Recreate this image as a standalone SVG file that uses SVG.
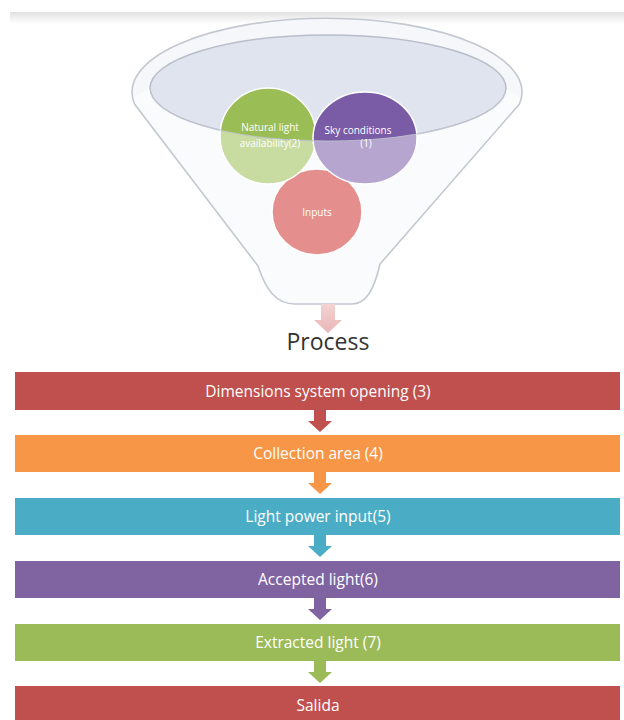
<svg xmlns="http://www.w3.org/2000/svg" width="624" height="720" viewBox="0 0 624 720">
<defs>
<linearGradient id="topline" x1="0" y1="0" x2="0" y2="1">
<stop offset="0" stop-color="#e2e2e2"/>
<stop offset="1" stop-color="#ffffff"/>
</linearGradient>
<linearGradient id="pinkArrow" x1="0" y1="0" x2="0" y2="1">
<stop offset="0" stop-color="#f3d3d3"/>
<stop offset="1" stop-color="#eab5b5"/>
</linearGradient>
<style>
.bar-text{font-family:"Open Sans","Liberation Sans",sans-serif;font-size:15.5px;fill:#ffffff;text-anchor:middle;}
.circ-text{font-family:"Open Sans","Liberation Sans",sans-serif;font-size:10px;fill:#ffffff;text-anchor:middle;}
.circ{stroke:#ffffff;stroke-width:1.5;}
.outline{fill:none;stroke:#c3c8d1;stroke-width:1.6;}
</style>
</defs>
<rect x="0" y="0" width="624" height="720" fill="#ffffff"/>
<rect x="10" y="12" width="614" height="12" fill="url(#topline)"/>

<g id="funnel">
<path d="M 134.5,104 A 195 74 0 1 1 519.5,104 L 380,264 C 374,290 366,304 352,304 L 295,304 C 276,304 266,290 258,266 Z" fill="#f5f7fa"/>
<ellipse cx="328" cy="88" rx="178" ry="53" fill="#dfe4ee" stroke="#b8bec9" stroke-width="1.5"/>
</g>

<g id="inputs">
<ellipse class="circ" cx="317" cy="212" rx="45" ry="43" fill="#d03232"/>
</g>
<g id="natural-light">
<ellipse class="circ" cx="268" cy="136" rx="48" ry="48" fill="#9bbd55"/>
</g>
<g id="sky-conditions">
<ellipse class="circ" cx="365" cy="138" rx="52" ry="46" fill="#7a5ba6"/>
</g>

<g id="funnel-front">
<path d="M 150,88 A 178 53 0 0 0 506,88 L 521,97 L 519.5,104 L 380,264 C 374,290 366,304 352,304 L 295,304 C 276,304 266,290 258,266 L 134.5,104 L 133,97 Z" fill="#ffffff" fill-opacity="0.45"/>
<path class="outline" d="M 134.5,104 A 195 74 0 1 1 519.5,104 L 380,264 C 374,290 366,304 352,304 L 295,304 C 276,304 266,290 258,266 Z"/>
<path d="M 150,88 A 178 53 0 0 0 506,88" fill="none" stroke="#bcc2cc" stroke-width="1.2" stroke-opacity="0.8"/>
</g>

<g id="circle-labels">
<text class="circ-text" x="270" y="130.5">Natural light</text>
<text class="circ-text" x="270" y="146.5">availability(2)</text>
<text class="circ-text" x="358" y="133.5">Sky conditions</text>
<text class="circ-text" x="366" y="146.5">(1)</text>
<text class="circ-text" x="317" y="215.5">Inputs</text>
</g>

<g id="process-label">
<text x="328" y="350" font-family="'Open Sans','Liberation Sans',sans-serif" font-size="23" fill="#333333" text-anchor="middle">Process</text>
</g>

<g id="step1"><rect x="15" y="372" width="605" height="38" fill="#c0504d"/><text class="bar-text" x="318" y="396.5">Dimensions system opening (3)</text></g>
<g id="step2"><rect x="15" y="435" width="605" height="37" fill="#f79646"/><text class="bar-text" x="318" y="459">Collection area (4)</text></g>
<g id="step3"><rect x="15" y="498" width="605" height="37" fill="#4bacc6"/><text class="bar-text" x="318" y="522">Light power input(5)</text></g>
<g id="step4"><rect x="15" y="561" width="605" height="37" fill="#8064a2"/><text class="bar-text" x="318" y="585">Accepted light(6)</text></g>
<g id="step5"><rect x="15" y="624" width="605" height="37" fill="#9bbb59"/><text class="bar-text" x="318" y="648">Extracted light (7)</text></g>
<g id="step6"><rect x="15" y="686" width="605" height="40" fill="#c0504d"/><text class="bar-text" x="318" y="711">Salida</text></g>

<g id="connectors">
<path d="M 321,304 L 335,304 L 335,320 L 342,320 L 328,333 L 314,320 L 321,320 Z" fill="url(#pinkArrow)"/>
<path d="M 314,410 L 326,410 L 326,421 L 332,421 L 320,432 L 308,421 L 314,421 Z" fill="#c0504d"/>
<path d="M 314,472 L 326,472 L 326,483 L 332,483 L 320,494 L 308,483 L 314,483 Z" fill="#f79646"/>
<path d="M 314,535 L 326,535 L 326,546 L 332,546 L 320,557 L 308,546 L 314,546 Z" fill="#4bacc6"/>
<path d="M 314,598 L 326,598 L 326,609 L 332,609 L 320,620 L 308,609 L 314,609 Z" fill="#8064a2"/>
<path d="M 314,661 L 326,661 L 326,672 L 332,672 L 320,683 L 308,672 L 314,672 Z" fill="#9bbb59"/>
</g>
</svg>
